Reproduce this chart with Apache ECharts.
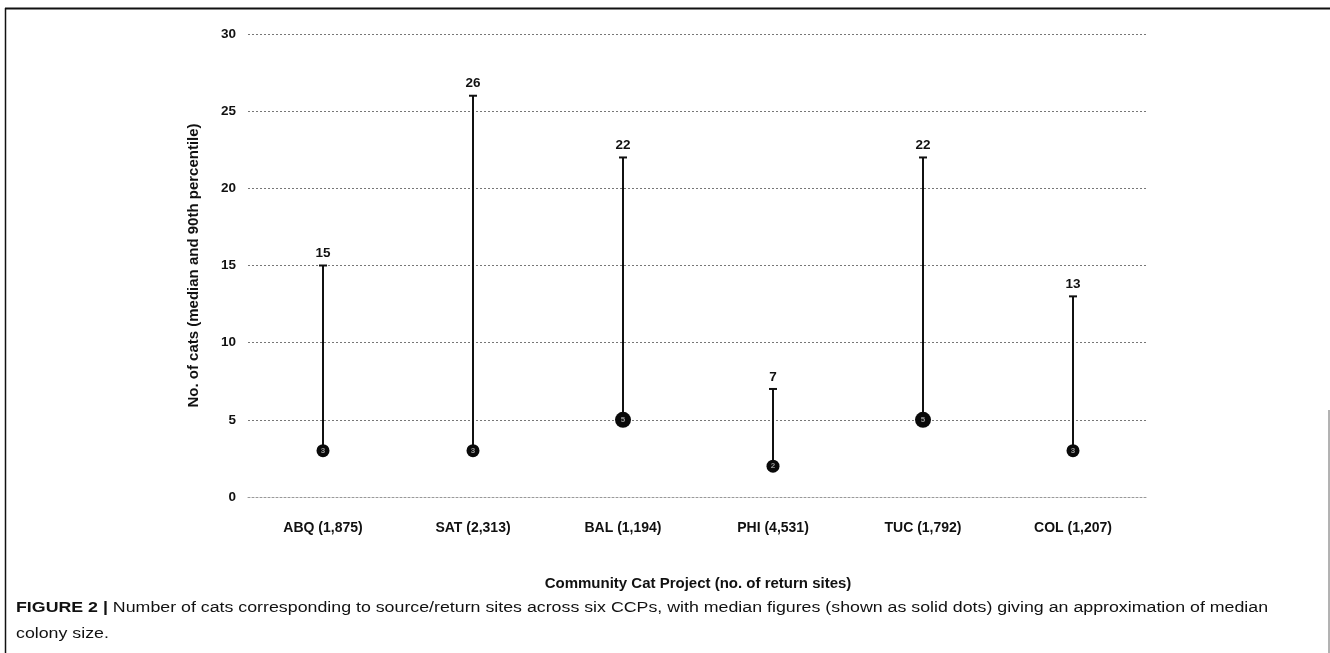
<!DOCTYPE html>
<html><head><meta charset="utf-8">
<script src="https://cdn.jsdelivr.net/npm/echarts@6/dist/echarts.min.js"></script>
<style>html,body{margin:0;padding:0;background:#fff}#c{width:1330px;height:653px}</style>
</head><body><div id="c"></div>
<script>
const categories = ['ABQ (1,875)','SAT (2,313)','BAL (1,194)','PHI (4,531)','TUC (1,792)','COL (1,207)'];
const medians = [3, 3, 5, 2, 5, 3];
const p90 = [15, 26, 22, 7, 22, 13];
const yTicks = [0, 5, 10, 15, 20, 25, 30];

const chart = echarts.init(document.getElementById('c'), null, {renderer:'canvas'});
const font = '"Liberation Sans", Arial, sans-serif';
chart.setOption({
  animation:false,
  backgroundColor:'#fff',
  grid:{left:248, right:182, top:34, bottom:156},
  xAxis:{
    type:'category', data:categories,
    name:'Community Cat Project (no. of return sites)', nameLocation:'middle', nameGap:79,
    nameTextStyle:{fontFamily:font, fontWeight:'bold', fontSize:15, color:'#111'},
    axisLine:{show:true, lineStyle:{color:'#999', type:[2,2], width:1}},
    axisTick:{show:false},
    axisLabel:{margin:24, fontFamily:font, fontWeight:'bold', fontSize:14, color:'#111'}
  },
  yAxis:{
    type:'value', min:yTicks[0], max:yTicks[yTicks.length-1], interval:5,
    name:'No. of cats (median and 90th percentile)', nameLocation:'middle', nameGap:47,
    nameTextStyle:{fontFamily:font, fontWeight:'bold', fontSize:15, color:'#111'},
    axisLine:{show:false}, axisTick:{show:false},
    axisLabel:{margin:12, fontFamily:font, fontWeight:'bold', fontSize:13.5, color:'#111'},
    splitLine:{show:true, lineStyle:{color:'#777', type:[2,2], width:1}}
  },
  series:[
    {
      type:'custom',
      data: categories.map((c,i)=>[i, medians[i], p90[i]]),
      renderItem:function(params, api){
        const x = api.value(0);
        const lo = api.coord([x, api.value(1)]);
        const hi = api.coord([x, api.value(2)]);
        const cw = 4;
        return {type:'group', children:[
          {type:'line', shape:{x1:lo[0], y1:lo[1], x2:hi[0], y2:hi[1]}, style:{stroke:'#111', lineWidth:2}},
          {type:'line', shape:{x1:hi[0]-cw, y1:hi[1], x2:hi[0]+cw, y2:hi[1]}, style:{stroke:'#111', lineWidth:2}},
          {type:'text', x:hi[0], y:hi[1]-12, style:{text:String(api.value(2)), fill:'#111', font:'bold 13.5px '+font, align:'center', verticalAlign:'middle'}}
        ]};
      },
      z:3
    },
    {
      type:'scatter',
      data: medians,
      symbol:'circle',
      symbolSize:function(v){ return v>=5 ? 16 : 13; },
      itemStyle:{color:'#0a0a0a', opacity:1},
      label:{show:true, position:'inside', color:'#999', fontSize:8, fontFamily:font, fontWeight:'bold'},
      z:4
    }
  ],
  graphic:[
    {type:'line', shape:{x1:5, y1:8.5, x2:1330, y2:8.5}, style:{stroke:'#111', lineWidth:2}},
    {type:'line', shape:{x1:5.5, y1:8, x2:5.5, y2:653}, style:{stroke:'#111', lineWidth:1.5}},
    {type:'line', shape:{x1:1329, y1:410, x2:1329, y2:653}, style:{stroke:'#666', lineWidth:1}},
    {type:'text', x:16, y:595, scaleX:1.27, style:{
      text:'{b|FIGURE 2 |} Number of cats corresponding to source/return sites across six CCPs, with median figures (shown as solid dots) giving an approximation of median\ncolony size.',
      rich:{b:{font:'bold 14px '+font, fill:'#111'}},
      font:'14px '+font, fill:'#111', lineHeight:26
    }}
  ]
});
</script></body></html>
